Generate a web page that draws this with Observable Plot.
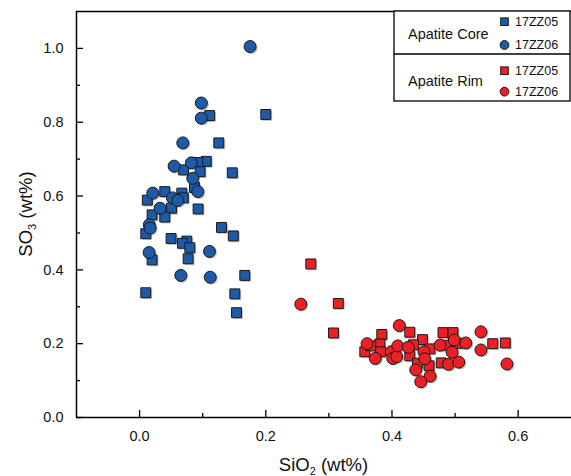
<!DOCTYPE html>
<html>
<head>
<meta charset="utf-8">
<script src="https://cdn.jsdelivr.net/npm/d3@7"></script>
<script src="https://cdn.jsdelivr.net/npm/@observablehq/plot@0.6"></script>
<style>
  html, body { margin: 0; padding: 0; background: #fff; }
  #chart svg { display: block; }
</style>
</head>
<body>
<div id="chart"></div>
<script>
// ---- Data (SiO2 wt%, SO3 wt%) ----
const coreZZ05 = [
  [0.111,0.818],[0.200,0.821],[0.1255,0.744],[0.1057,0.694],[0.0922,0.691],
  [0.0959,0.666],[0.1469,0.663],[0.0696,0.671],[0.0870,0.623],[0.0399,0.612],
  [0.0669,0.608],[0.0693,0.595],[0.0122,0.589],[0.0506,0.567],[0.0399,0.543],
  [0.0198,0.549],[0.0927,0.565],[0.0098,0.498],[0.0499,0.485],[0.0748,0.478],
  [0.0680,0.472],[0.0796,0.460],[0.0198,0.427],[0.0769,0.430],[0.0098,0.338],
  [0.1298,0.515],[0.1485,0.492],[0.1667,0.385],[0.1509,0.335],[0.1536,0.284]
];
const coreZZ06 = [
  [0.1751,1.005],[0.0978,0.852],[0.0978,0.811],[0.0685,0.744],[0.0547,0.681],
  [0.0822,0.690],[0.0843,0.648],[0.0922,0.612],[0.0209,0.608],[0.0521,0.595],
  [0.0605,0.588],[0.0325,0.567],[0.0154,0.522],[0.0166,0.513],[0.0151,0.447],
  [0.1108,0.450],[0.0653,0.385],[0.1120,0.380]
];
const rimZZ05 = [
  [0.2713,0.416],[0.3149,0.309],[0.3073,0.229],[0.3838,0.225],[0.4282,0.231],
  [0.4483,0.211],[0.4808,0.230],[0.4967,0.230],[0.5597,0.200],[0.5796,0.202],
  [0.3569,0.178],[0.3807,0.199],[0.3818,0.178],[0.4341,0.197],[0.4282,0.167],
  [0.4602,0.186],[0.4588,0.140],[0.4781,0.148],[0.4853,0.196],[0.5038,0.201],
  [0.3664,0.194],[0.4404,0.147]
];
const rimZZ06 = [
  [0.2555,0.307],[0.4116,0.249],[0.5410,0.232],[0.5410,0.183],[0.5822,0.145],
  [0.3605,0.200],[0.3735,0.160],[0.3989,0.178],[0.4013,0.160],[0.4076,0.165],
  [0.4092,0.194],[0.4258,0.190],[0.4507,0.178],[0.4520,0.159],[0.4377,0.129],
  [0.4604,0.112],[0.4456,0.097],[0.4762,0.196],[0.4987,0.210],[0.5170,0.202],
  [0.4952,0.177],[0.4895,0.144],[0.5059,0.150]
];

const xMajor = [0.0, 0.2, 0.4, 0.6];
const xMinor = [0.1, 0.3, 0.5];
const yMajor = [0.0, 0.2, 0.4, 0.6, 0.8, 1.0];
const yMinor = [0.1, 0.3, 0.5, 0.7, 0.9];
const xDomain = [-0.1, 0.6845];
const yDomain = [0, 1.1];

const groupNames = ["Apatite Core", "Apatite Rim"];
const sampleNames = ["17ZZ05", "17ZZ06"];

const BLUE = "#1e5aa8";
const RED = "#ec1f27";
const EDGE = "#1a1a1a";
const FONT = "'Liberation Sans', Arial, Helvetica, sans-serif";

// ---- Layout ----
const W = 571, H = 476;
const mL = 76, mT = 11, mB = 59, mR = 0;
const plotW = W - mL - mR, plotH = H - mT - mB;
const majLen = 7, minLen = 4;

const px = d => d[0], py = d => d[1];

function shadow(data, sym, r) {
  return Plot.dot(data, {x: px, y: py, symbol: sym, r, fill: "#8a8a8a", fillOpacity: 0.55, stroke: "none", dx: 1.4, dy: 1.4});
}
function pts(data, sym, r, fill) {
  return Plot.dot(data, {x: px, y: py, symbol: sym, r, fill, stroke: EDGE, strokeWidth: 1});
}

const chart = Plot.plot({
  width: W, height: H,
  marginLeft: mL, marginTop: mT, marginBottom: mB, marginRight: mR,
  style: {fontFamily: FONT, background: "#fff", overflow: "visible"},
  x: {domain: xDomain},
  y: {domain: yDomain},
  marks: [
    // frame
    Plot.ruleX([xDomain[0]], {x: d => d, stroke: "#000", strokeWidth: 1.5}),
    Plot.ruleY([yDomain[0]], {y: d => d, stroke: "#000", strokeWidth: 1.5}),
    Plot.ruleY([yDomain[1]], {y: d => d, stroke: "#000", strokeWidth: 1.5}),
    // inward ticks
    Plot.ruleX(xMajor, {x: d => d, insetTop: plotH - majLen, stroke: "#000", strokeWidth: 1.3}),
    Plot.ruleX(xMinor, {x: d => d, insetTop: plotH - minLen, stroke: "#000", strokeWidth: 1.3}),
    Plot.ruleY(yMajor, {y: d => d, insetRight: plotW - majLen, stroke: "#000", strokeWidth: 1.3}),
    Plot.ruleY(yMinor, {y: d => d, insetRight: plotW - minLen, stroke: "#000", strokeWidth: 1.3}),
    // tick labels
    Plot.axisX(xMajor, {tickSize: 0, tickPadding: 13, tickFormat: d3.format(".1f"), fontSize: 14.5, label: null, fill: "#111"}),
    Plot.axisY(yMajor, {tickSize: 0, tickPadding: 13, tickFormat: d3.format(".1f"), fontSize: 14.5, label: null, fill: "#111"}),
    // shadows
    shadow(coreZZ05, "square", 5.6),
    shadow(coreZZ06, "circle", 6),
    shadow(rimZZ05, "square", 5.6),
    shadow(rimZZ06, "circle", 6),
    // points
    pts(coreZZ05, "square", 5.6, BLUE),
    pts(coreZZ06, "circle", 6, BLUE),
    pts(rimZZ05, "square", 5.6, RED),
    pts(rimZZ06, "circle", 6, RED)
  ]
});

const svg = d3.select(chart);

// Axis titles with subscripts
const xt = svg.append("text")
  .attr("x", mL + plotW / 2).attr("y", 471)
  .attr("text-anchor", "middle")
  .attr("font-family", FONT).attr("font-size", 18.5).attr("fill", "#111");
xt.append("tspan").text("SiO");
xt.append("tspan").attr("font-size", 11).attr("dy", 4).text("2");
xt.append("tspan").attr("dy", -4).text(" (wt%)");

const yt = svg.append("text")
  .attr("transform", `translate(32,${mT + plotH / 2}) rotate(-90)`)
  .attr("text-anchor", "middle")
  .attr("font-family", FONT).attr("font-size", 18.5).attr("fill", "#111");
yt.append("tspan").text("SO");
yt.append("tspan").attr("font-size", 11).attr("dy", 4).text("3");
yt.append("tspan").attr("dy", -4).text(" (wt%)");

// Legend box
const lg = svg.append("g").attr("font-family", FONT).attr("fill", "#111").attr("text-anchor", "start");
const lx0 = 394, lx1 = 570, ly0 = 11, lyMid = 54, ly1 = 101;
lg.append("rect").attr("x", lx0).attr("y", ly0).attr("width", lx1 - lx0).attr("height", ly1 - ly0)
  .attr("fill", "#fff").attr("stroke", "#000").attr("stroke-width", 1.3);
lg.append("line").attr("x1", lx0).attr("x2", lx1).attr("y1", lyMid).attr("y2", lyMid)
  .attr("stroke", "#000").attr("stroke-width", 1.3);

const rows = [
  {group: groupNames[0], cy: 33.5, color: BLUE, items: [21.7, 45]},
  {group: groupNames[1], cy: 80.5, color: RED, items: [70.7, 91.7]}
];
rows.forEach(rw => {
  lg.append("text").attr("x", 408).attr("y", rw.cy).attr("dy", "0.35em")
    .attr("text-anchor", "start").attr("font-size", 14.5).text(rw.group);
  rw.items.forEach((iy, k) => {
    if (k === 0) {
      lg.append("rect").attr("x", 504.5 - 3.8).attr("y", iy - 3.8).attr("width", 7.6).attr("height", 7.6)
        .attr("fill", rw.color).attr("stroke", EDGE).attr("stroke-width", 1);
    } else {
      lg.append("circle").attr("cx", 504.5).attr("cy", iy).attr("r", 4.4)
        .attr("fill", rw.color).attr("stroke", EDGE).attr("stroke-width", 1);
    }
    lg.append("text").attr("x", 515).attr("y", iy).attr("dy", "0.35em")
      .attr("text-anchor", "start").attr("font-size", 12.5).text(sampleNames[k]);
  });
});

document.getElementById("chart").appendChild(chart);
</script>
</body>
</html>
